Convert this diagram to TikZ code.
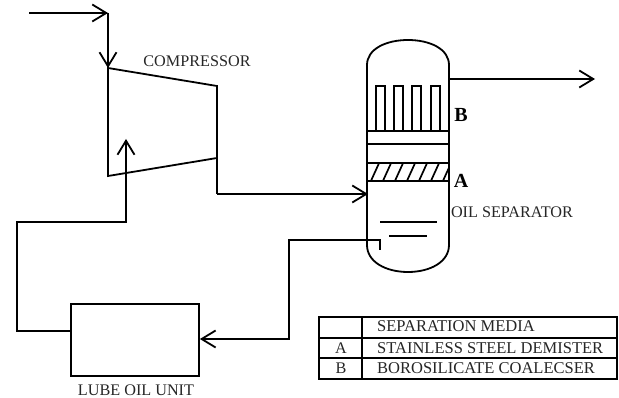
\documentclass[tikz,border=0pt]{standalone}
\usepackage{fontspec}
\setmainfont{Liberation Serif}
\usetikzlibrary{arrows.meta,patterns}
\tikzset{
  pipe/.style={line width=1.8pt,line join=miter},
  flow/.style={pipe,-{Straight Barb[length=14pt,width=17pt,line width=1.8pt]}},
  lbl/.style={inner sep=0pt,font=\fontsize{16.2}{18}\selectfont,text=black!85},
  tag/.style={inner sep=0pt,font=\fontsize{20}{22}\selectfont\bfseries},
  cell/.style={inner sep=0pt,anchor=west,font=\fontsize{16.5}{18}\selectfont,text=black!85}
}
\begin{document}
\begin{tikzpicture}[x=1pt,y=-1pt]
\useasboundingbox (0,0) rectangle (619,398);
% coordinates
\coordinate (in0) at (29,13);
\coordinate (in1) at (108,13);
\coordinate (c1) at (108,68);
\coordinate (c2) at (217,86);
\coordinate (c3) at (217,158);
\coordinate (c4) at (108,176);
\coordinate (v1) at (217,194);
\coordinate (vin) at (368,194);
\coordinate (out0) at (449,79);
\coordinate (out1) at (595,79);
\coordinate (d0) at (380,250);
\coordinate (d1) at (380,240);
\coordinate (d2) at (289,240);
\coordinate (d3) at (289,339);
\coordinate (r1) at (17,331);
\coordinate (r2) at (17,222);
\coordinate (r3) at (126,222);
\coordinate (r4) at (126,139);
% compressor
\draw[pipe] (c1)--(c2)--(c3)--(c4)--cycle;
\draw[flow] (in0)--(in1);
\draw[flow] (in1)--(c1);
\draw[pipe] (c3)--(v1);
\draw[flow] (v1)--(vin);
% vessel
\draw[pipe] (367,65) .. controls (367,49) and (386,40) .. (408,40) .. controls (430,40) and (449,49) .. (449,65)
  -- (449,245) .. controls (449,262) and (430,272) .. (408,272) .. controls (386,272) and (367,262) .. (367,245) -- cycle;
\begin{scope}
\clip (367,163) rectangle (449,181);
\foreach \x in {358,370,...,454}{\draw[line width=1.7pt] (\x,183)--(\x+10,161);}
\end{scope}
\foreach \y in {131,144,163,181}{\draw[pipe] (367,\y)--(449,\y);}
\foreach \x in {376,394,412,431}{\draw[pipe] (\x,131)--(\x,86)--(\x+9,86)--(\x+9,131);}
\draw[pipe] (380,222)--(437,222);
\draw[pipe] (389,236)--(427,236);
\draw[flow] (out0)--(out1);
% lube unit
\node[draw,pipe,minimum width=128pt,minimum height=72pt,inner sep=0pt] (lube) at (135,340) {};
\draw[flow] (d0)--(d1)--(d2)--(d3)--(lube.east |- d3);
\draw[flow] (lube.west |- r1)--(r1)--(r2)--(r3)--(r4);
% labels
\node[lbl,anchor=center] (tc) at (197,61) {COMPRESSOR};
\node[lbl,anchor=center] (tl) at (136,390) {LUBE OIL UNIT};
\node[lbl,anchor=center] (ts) at (512,212) {OIL SEPARATOR};
\node[tag] (tb) at (461,115) {B};
\node[tag] (ta) at (461,181) {A};
% table
\draw[line width=2pt] (319,317) rectangle (617,379);
\draw[line width=2pt] (319,338)--(617,338);
\draw[line width=2pt] (319,358)--(617,358);
\draw[line width=2pt] (362,317)--(362,379);
\node[cell] (t1) at (377,326.5) {SEPARATION MEDIA};
\node[cell] (t2) at (377,348) {STAINLESS STEEL DEMISTER};
\node[cell] (t3) at (377,368) {BOROSILICATE COALECSER};
\node[lbl] (k1) at (341,348) {A};
\node[lbl] (k2) at (341,368) {B};
\end{tikzpicture}
\end{document}
